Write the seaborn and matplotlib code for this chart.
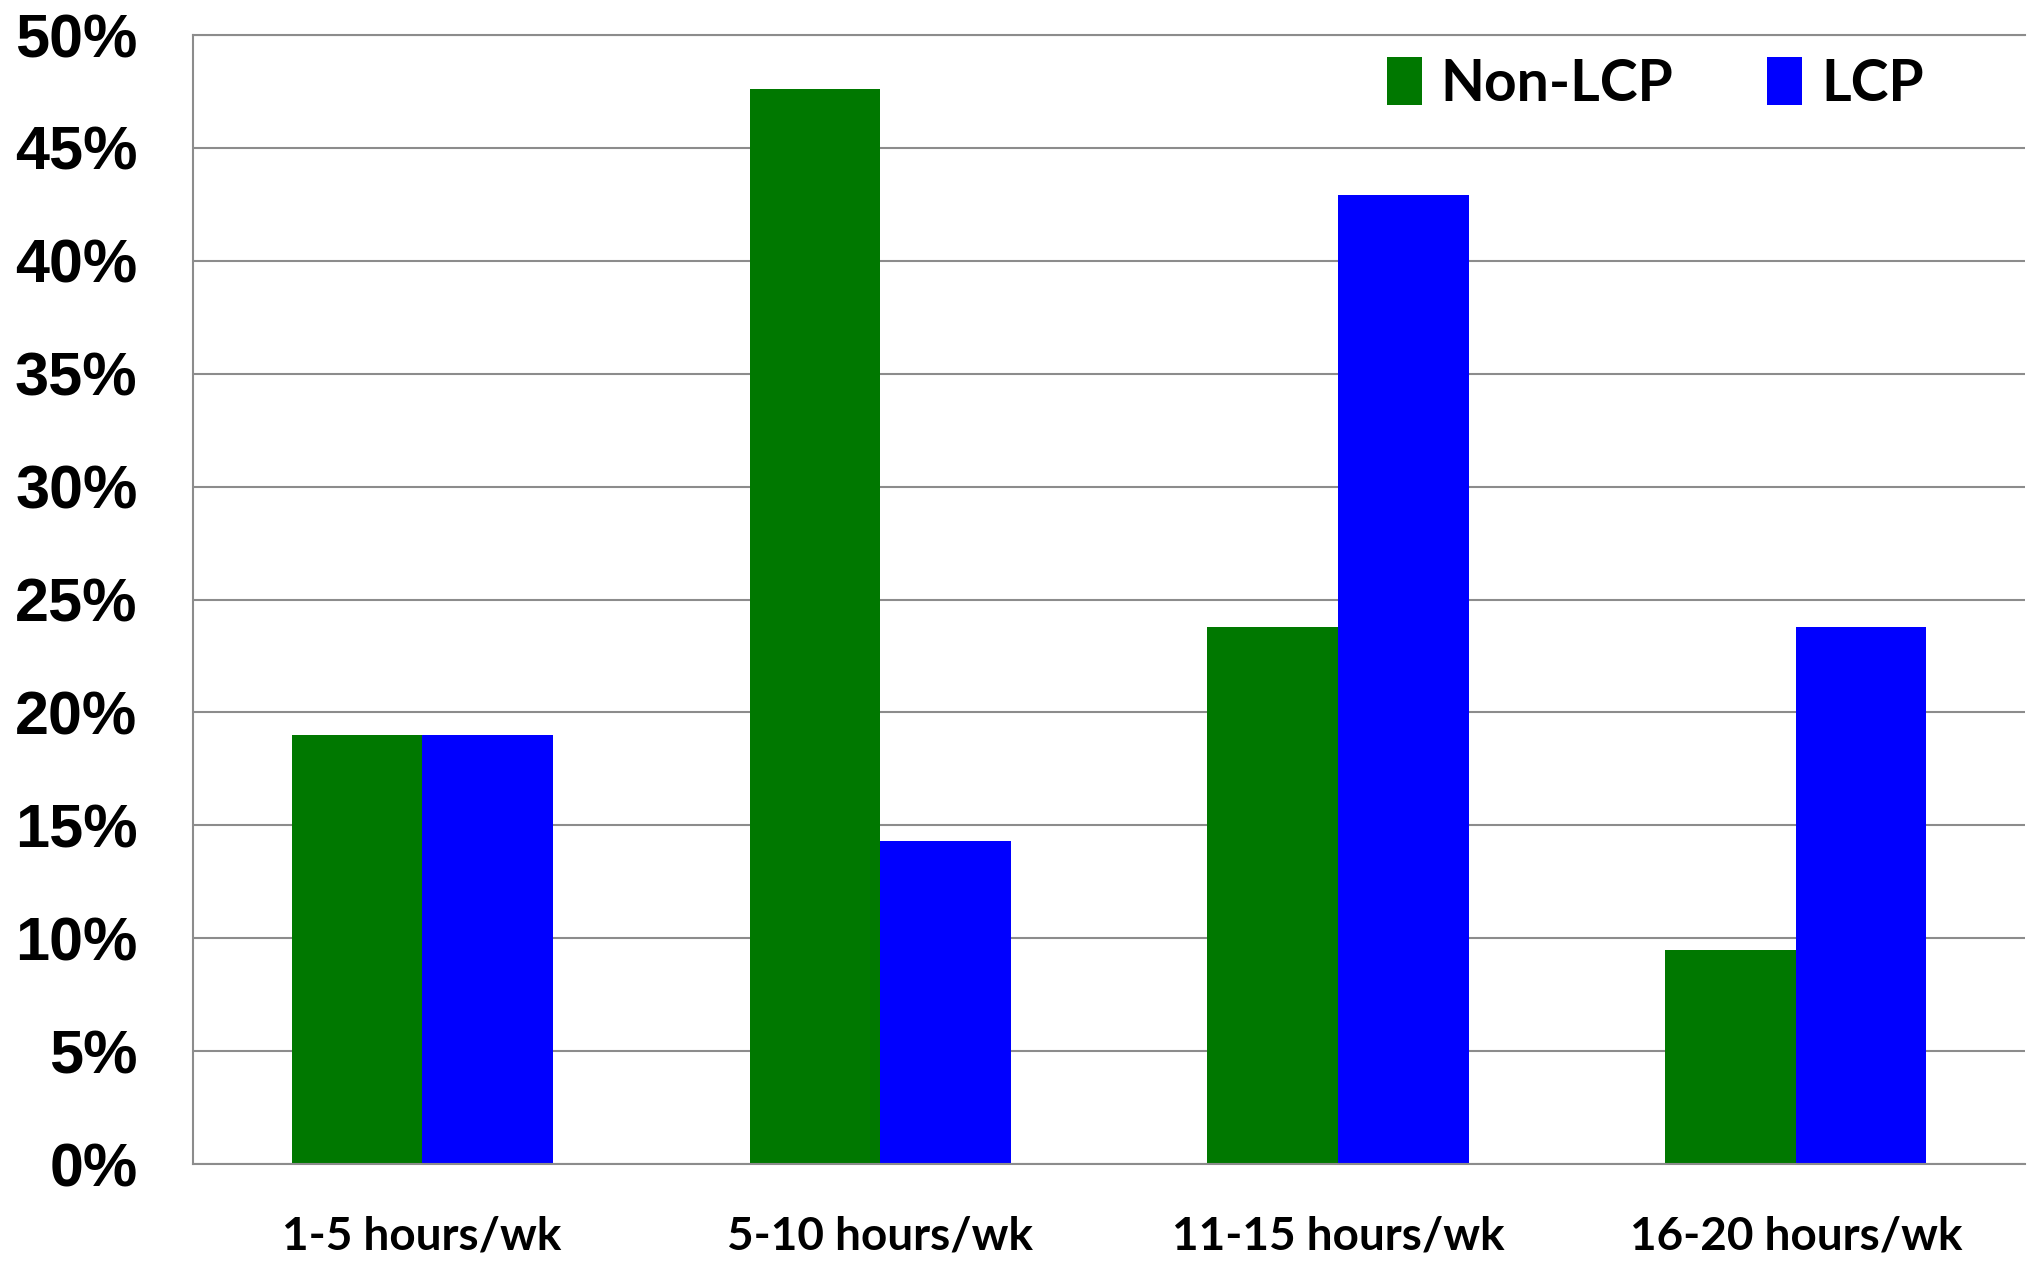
import matplotlib
matplotlib.use("Agg")
import matplotlib.pyplot as plt
import matplotlib.ticker as mticker
import seaborn as sns
import pandas as pd

# data (percent of respondents)
categories = ["1-5 hours/wk", "5-10 hours/wk", "11-15 hours/wk", "16-20 hours/wk"]
groups = ["Non-LCP", "LCP"]
non_lcp = [19.0, 47.6, 23.8, 9.5]
lcp = [19.0, 14.3, 42.9, 23.8]
y_ticks = [0, 5, 10, 15, 20, 25, 30, 35, 40, 45, 50]

colors = ["#007800", "#0000FF"]
grid_color = "#8c8c8c"

df = pd.DataFrame({
    "hours": categories * 2,
    "pct": non_lcp + lcp,
    "group": [groups[0]] * len(categories) + [groups[1]] * len(categories),
})

sns.set_style("white")
plt.rcParams["font.family"] = ["Liberation Sans", "DejaVu Sans"]
plt.rcParams["text.color"] = "black"
plt.rcParams["xtick.labelcolor"] = "black"
plt.rcParams["ytick.labelcolor"] = "black"

fig = plt.figure(figsize=(20.28, 12.65), dpi=100)
ax = fig.add_axes([0.0952, 0.0798, 0.9033, 0.8925])

sns.barplot(data=df, x="hours", y="pct", hue="group", hue_order=groups,
            palette=colors, width=0.57, gap=0, saturation=1,
            linewidth=0, ax=ax)

ax.set_xlim(-0.5, len(categories) - 0.5)
ax.set_ylim(0, 50)
ax.set_xlabel("")
ax.set_ylabel("")

# y axis
ax.set_yticks(y_ticks)
ax.yaxis.set_major_formatter(mticker.FuncFormatter(lambda v, p: f"{v:.0f}%"))
ax.tick_params(axis="y", direction="out", length=12, width=1.5,
               color=grid_color, pad=28, labelsize=44, labelcolor="black")
for lbl in ax.get_yticklabels():
    lbl.set_fontweight("bold")
    lbl.set_family(["Liberation Sans", "DejaVu Sans"])

# x axis: ticks on category boundaries, labels at centres
ax.set_xticks([i - 0.5 for i in range(len(categories) + 1)])
ax.set_xticklabels([])
ax.set_xticks(range(len(categories)), minor=True)
ax.set_xticklabels(categories, minor=True)
ax.tick_params(axis="x", which="major", direction="out", length=12,
               width=1.5, color=grid_color)
ax.tick_params(axis="x", which="minor", length=0, pad=37, labelsize=33,
               labelcolor="black")
for lbl in ax.get_xticklabels(minor=True):
    lbl.set_fontweight("bold")
    lbl.set_family(["Lato", "DejaVu Sans"])

ax.yaxis.grid(True, color=grid_color, linewidth=1.5)
ax.set_axisbelow(True)
for side in ["left", "bottom", "top"]:
    ax.spines[side].set_color(grid_color)
    ax.spines[side].set_linewidth(1.5)
ax.spines["right"].set_visible(False)

handles, labels = ax.get_legend_handles_labels()
leg = ax.legend(handles, labels, loc="center left",
                bbox_to_anchor=(0.684, 0.9336), bbox_transform=fig.transFigure,
                ncol=2, frameon=False, borderpad=0, borderaxespad=0,
                handlelength=0.61, handleheight=0.91, handletextpad=0.33,
                columnspacing=1.65,
                prop={"family": ["Lato", "DejaVu Sans"], "weight": "bold", "size": 41})
for t in leg.get_texts():
    t.set_color("black")

fig.savefig("out.png", dpi=100)
